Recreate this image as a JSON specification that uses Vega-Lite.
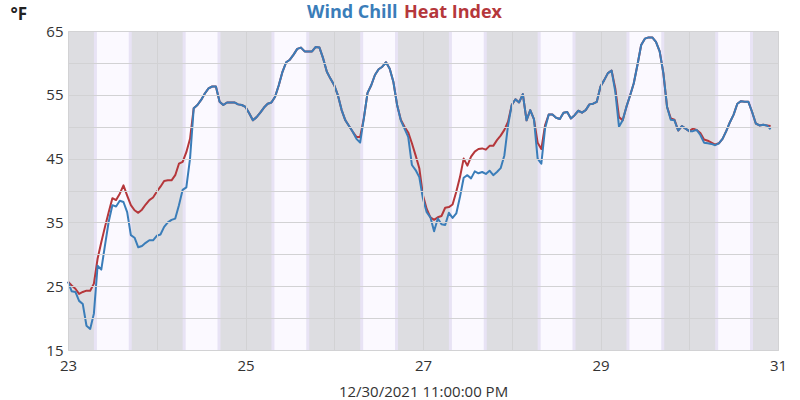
{
  "$schema": "https://vega.github.io/schema/vega-lite/v6.json",
  "width": 710,
  "height": 319,
  "autosize": "none",
  "padding": {"left": 68, "top": 31, "right": 22, "bottom": 50},
  "background": "white",
  "config": {
    "view": {"fill": "#dddde1", "stroke": "#d4d4d6"},
    "font": "Open Sans"
  },
  "datasets": {
    "sun": [
      {"rise": "2021-12-23T07:25", "set": "2021-12-23T16:50"},
      {"rise": "2021-12-24T07:25", "set": "2021-12-24T16:50"},
      {"rise": "2021-12-25T07:25", "set": "2021-12-25T16:50"},
      {"rise": "2021-12-26T07:25", "set": "2021-12-26T16:50"},
      {"rise": "2021-12-27T07:25", "set": "2021-12-27T16:50"},
      {"rise": "2021-12-28T07:25", "set": "2021-12-28T16:50"},
      {"rise": "2021-12-29T07:25", "set": "2021-12-29T16:50"},
      {"rise": "2021-12-30T07:25", "set": "2021-12-30T16:50"}
    ],
    "wx": [
      {"t": "2021-12-23T00:00", "Wind Chill": 25.7, "Heat Index": 25.7},
      {"t": "2021-12-23T01:00", "Wind Chill": 24.2, "Heat Index": 25.1},
      {"t": "2021-12-23T02:00", "Wind Chill": 24.1, "Heat Index": 24.6},
      {"t": "2021-12-23T03:00", "Wind Chill": 22.7, "Heat Index": 23.8},
      {"t": "2021-12-23T04:00", "Wind Chill": 22.2, "Heat Index": 24.1},
      {"t": "2021-12-23T05:00", "Wind Chill": 18.8, "Heat Index": 24.3},
      {"t": "2021-12-23T06:00", "Wind Chill": 18.3, "Heat Index": 24.3},
      {"t": "2021-12-23T07:00", "Wind Chill": 20.7, "Heat Index": 25.4},
      {"t": "2021-12-23T08:00", "Wind Chill": 28.2, "Heat Index": 29.3},
      {"t": "2021-12-23T09:00", "Wind Chill": 27.6, "Heat Index": 31.9},
      {"t": "2021-12-23T10:00", "Wind Chill": 31.4, "Heat Index": 34.3},
      {"t": "2021-12-23T11:00", "Wind Chill": 35.1, "Heat Index": 36.6},
      {"t": "2021-12-23T12:00", "Wind Chill": 37.7, "Heat Index": 38.8},
      {"t": "2021-12-23T13:00", "Wind Chill": 37.5, "Heat Index": 38.5},
      {"t": "2021-12-23T14:00", "Wind Chill": 38.4, "Heat Index": 39.5},
      {"t": "2021-12-23T15:00", "Wind Chill": 38.2, "Heat Index": 40.8},
      {"t": "2021-12-23T16:00", "Wind Chill": 36.6, "Heat Index": 39.2},
      {"t": "2021-12-23T17:00", "Wind Chill": 33.0, "Heat Index": 37.7},
      {"t": "2021-12-23T18:00", "Wind Chill": 32.6, "Heat Index": 36.9},
      {"t": "2021-12-23T19:00", "Wind Chill": 31.1, "Heat Index": 36.5},
      {"t": "2021-12-23T20:00", "Wind Chill": 31.3, "Heat Index": 37.0},
      {"t": "2021-12-23T21:00", "Wind Chill": 31.8, "Heat Index": 37.8},
      {"t": "2021-12-23T22:00", "Wind Chill": 32.2, "Heat Index": 38.5},
      {"t": "2021-12-23T23:00", "Wind Chill": 32.2, "Heat Index": 38.9},
      {"t": "2021-12-24T00:00", "Wind Chill": 32.9, "Heat Index": 39.8},
      {"t": "2021-12-24T01:00", "Wind Chill": 33.1, "Heat Index": 40.6},
      {"t": "2021-12-24T02:00", "Wind Chill": 34.3, "Heat Index": 41.5},
      {"t": "2021-12-24T03:00", "Wind Chill": 35.0, "Heat Index": 41.6},
      {"t": "2021-12-24T04:00", "Wind Chill": 35.4, "Heat Index": 41.6},
      {"t": "2021-12-24T05:00", "Wind Chill": 35.6, "Heat Index": 42.4},
      {"t": "2021-12-24T06:00", "Wind Chill": 37.7, "Heat Index": 44.2},
      {"t": "2021-12-24T07:00", "Wind Chill": 40.1, "Heat Index": 44.5},
      {"t": "2021-12-24T08:00", "Wind Chill": 40.5, "Heat Index": 46.0},
      {"t": "2021-12-24T09:00", "Wind Chill": 45.0, "Heat Index": 48.1},
      {"t": "2021-12-24T10:00", "Wind Chill": 52.9, "Heat Index": 52.9},
      {"t": "2021-12-24T11:00", "Wind Chill": 53.4, "Heat Index": 53.4},
      {"t": "2021-12-24T12:00", "Wind Chill": 54.2, "Heat Index": 54.2},
      {"t": "2021-12-24T13:00", "Wind Chill": 55.2, "Heat Index": 55.2},
      {"t": "2021-12-24T14:00", "Wind Chill": 56.0, "Heat Index": 56.0},
      {"t": "2021-12-24T15:00", "Wind Chill": 56.3, "Heat Index": 56.3},
      {"t": "2021-12-24T16:00", "Wind Chill": 56.3, "Heat Index": 56.3},
      {"t": "2021-12-24T17:00", "Wind Chill": 53.9, "Heat Index": 53.9},
      {"t": "2021-12-24T18:00", "Wind Chill": 53.4, "Heat Index": 53.4},
      {"t": "2021-12-24T19:00", "Wind Chill": 53.8, "Heat Index": 53.8},
      {"t": "2021-12-24T20:00", "Wind Chill": 53.8, "Heat Index": 53.8},
      {"t": "2021-12-24T21:00", "Wind Chill": 53.8, "Heat Index": 53.8},
      {"t": "2021-12-24T22:00", "Wind Chill": 53.5, "Heat Index": 53.5},
      {"t": "2021-12-24T23:00", "Wind Chill": 53.4, "Heat Index": 53.4},
      {"t": "2021-12-25T00:00", "Wind Chill": 53.1, "Heat Index": 53.1},
      {"t": "2021-12-25T01:00", "Wind Chill": 52.1, "Heat Index": 52.1},
      {"t": "2021-12-25T02:00", "Wind Chill": 51.0, "Heat Index": 51.0},
      {"t": "2021-12-25T03:00", "Wind Chill": 51.5, "Heat Index": 51.5},
      {"t": "2021-12-25T04:00", "Wind Chill": 52.2, "Heat Index": 52.2},
      {"t": "2021-12-25T05:00", "Wind Chill": 53.0, "Heat Index": 53.0},
      {"t": "2021-12-25T06:00", "Wind Chill": 53.6, "Heat Index": 53.6},
      {"t": "2021-12-25T07:00", "Wind Chill": 53.8, "Heat Index": 53.8},
      {"t": "2021-12-25T08:00", "Wind Chill": 54.7, "Heat Index": 54.7},
      {"t": "2021-12-25T09:00", "Wind Chill": 56.5, "Heat Index": 56.5},
      {"t": "2021-12-25T10:00", "Wind Chill": 58.6, "Heat Index": 58.6},
      {"t": "2021-12-25T11:00", "Wind Chill": 60.1, "Heat Index": 60.1},
      {"t": "2021-12-25T12:00", "Wind Chill": 60.5, "Heat Index": 60.5},
      {"t": "2021-12-25T13:00", "Wind Chill": 61.3, "Heat Index": 61.3},
      {"t": "2021-12-25T14:00", "Wind Chill": 62.2, "Heat Index": 62.2},
      {"t": "2021-12-25T15:00", "Wind Chill": 62.4, "Heat Index": 62.4},
      {"t": "2021-12-25T16:00", "Wind Chill": 61.8, "Heat Index": 61.8},
      {"t": "2021-12-25T17:00", "Wind Chill": 61.8, "Heat Index": 61.8},
      {"t": "2021-12-25T18:00", "Wind Chill": 61.8, "Heat Index": 61.8},
      {"t": "2021-12-25T19:00", "Wind Chill": 62.5, "Heat Index": 62.5},
      {"t": "2021-12-25T20:00", "Wind Chill": 62.4, "Heat Index": 62.4},
      {"t": "2021-12-25T21:00", "Wind Chill": 60.7, "Heat Index": 60.7},
      {"t": "2021-12-25T22:00", "Wind Chill": 58.6, "Heat Index": 58.6},
      {"t": "2021-12-25T23:00", "Wind Chill": 57.5, "Heat Index": 57.5},
      {"t": "2021-12-26T00:00", "Wind Chill": 56.5, "Heat Index": 56.5},
      {"t": "2021-12-26T01:00", "Wind Chill": 54.9, "Heat Index": 54.9},
      {"t": "2021-12-26T02:00", "Wind Chill": 52.6, "Heat Index": 52.6},
      {"t": "2021-12-26T03:00", "Wind Chill": 51.0, "Heat Index": 51.0},
      {"t": "2021-12-26T04:00", "Wind Chill": 50.1, "Heat Index": 50.1},
      {"t": "2021-12-26T05:00", "Wind Chill": 49.2, "Heat Index": 49.2},
      {"t": "2021-12-26T06:00", "Wind Chill": 48.1, "Heat Index": 48.4},
      {"t": "2021-12-26T07:00", "Wind Chill": 47.5, "Heat Index": 48.4},
      {"t": "2021-12-26T08:00", "Wind Chill": 51.3, "Heat Index": 51.3},
      {"t": "2021-12-26T09:00", "Wind Chill": 55.3, "Heat Index": 55.3},
      {"t": "2021-12-26T10:00", "Wind Chill": 56.5, "Heat Index": 56.5},
      {"t": "2021-12-26T11:00", "Wind Chill": 58.1, "Heat Index": 58.1},
      {"t": "2021-12-26T12:00", "Wind Chill": 59.0, "Heat Index": 59.0},
      {"t": "2021-12-26T13:00", "Wind Chill": 59.4, "Heat Index": 59.4},
      {"t": "2021-12-26T14:00", "Wind Chill": 60.1, "Heat Index": 60.1},
      {"t": "2021-12-26T15:00", "Wind Chill": 59.1, "Heat Index": 59.1},
      {"t": "2021-12-26T16:00", "Wind Chill": 57.0, "Heat Index": 57.0},
      {"t": "2021-12-26T17:00", "Wind Chill": 53.4, "Heat Index": 53.4},
      {"t": "2021-12-26T18:00", "Wind Chill": 51.0, "Heat Index": 51.1},
      {"t": "2021-12-26T19:00", "Wind Chill": 49.7, "Heat Index": 50.0},
      {"t": "2021-12-26T20:00", "Wind Chill": 48.4, "Heat Index": 49.1},
      {"t": "2021-12-26T21:00", "Wind Chill": 44.0, "Heat Index": 47.4},
      {"t": "2021-12-26T22:00", "Wind Chill": 43.2, "Heat Index": 45.5},
      {"t": "2021-12-26T23:00", "Wind Chill": 42.1, "Heat Index": 43.5},
      {"t": "2021-12-27T00:00", "Wind Chill": 38.7, "Heat Index": 39.2},
      {"t": "2021-12-27T01:00", "Wind Chill": 36.6, "Heat Index": 37.1},
      {"t": "2021-12-27T02:00", "Wind Chill": 35.8, "Heat Index": 35.8},
      {"t": "2021-12-27T03:00", "Wind Chill": 33.6, "Heat Index": 35.4},
      {"t": "2021-12-27T04:00", "Wind Chill": 35.6, "Heat Index": 35.8},
      {"t": "2021-12-27T05:00", "Wind Chill": 34.7, "Heat Index": 36.0},
      {"t": "2021-12-27T06:00", "Wind Chill": 34.6, "Heat Index": 37.3},
      {"t": "2021-12-27T07:00", "Wind Chill": 36.5, "Heat Index": 37.4},
      {"t": "2021-12-27T08:00", "Wind Chill": 35.7, "Heat Index": 37.8},
      {"t": "2021-12-27T09:00", "Wind Chill": 36.4, "Heat Index": 39.8},
      {"t": "2021-12-27T10:00", "Wind Chill": 39.0, "Heat Index": 42.1},
      {"t": "2021-12-27T11:00", "Wind Chill": 42.0, "Heat Index": 45.0},
      {"t": "2021-12-27T12:00", "Wind Chill": 42.4, "Heat Index": 43.9},
      {"t": "2021-12-27T13:00", "Wind Chill": 41.9, "Heat Index": 45.3},
      {"t": "2021-12-27T14:00", "Wind Chill": 43.0, "Heat Index": 46.1},
      {"t": "2021-12-27T15:00", "Wind Chill": 42.7, "Heat Index": 46.5},
      {"t": "2021-12-27T16:00", "Wind Chill": 42.9, "Heat Index": 46.6},
      {"t": "2021-12-27T17:00", "Wind Chill": 42.6, "Heat Index": 46.4},
      {"t": "2021-12-27T18:00", "Wind Chill": 43.1, "Heat Index": 47.0},
      {"t": "2021-12-27T19:00", "Wind Chill": 42.4, "Heat Index": 47.0},
      {"t": "2021-12-27T20:00", "Wind Chill": 42.9, "Heat Index": 47.9},
      {"t": "2021-12-27T21:00", "Wind Chill": 43.5, "Heat Index": 48.6},
      {"t": "2021-12-27T22:00", "Wind Chill": 45.5, "Heat Index": 49.5},
      {"t": "2021-12-27T23:00", "Wind Chill": 50.2, "Heat Index": 50.8},
      {"t": "2021-12-28T00:00", "Wind Chill": 53.4, "Heat Index": 53.4},
      {"t": "2021-12-28T01:00", "Wind Chill": 54.3, "Heat Index": 54.3},
      {"t": "2021-12-28T02:00", "Wind Chill": 53.8, "Heat Index": 53.8},
      {"t": "2021-12-28T03:00", "Wind Chill": 55.1, "Heat Index": 55.1},
      {"t": "2021-12-28T04:00", "Wind Chill": 51.0, "Heat Index": 51.0},
      {"t": "2021-12-28T05:00", "Wind Chill": 52.6, "Heat Index": 52.6},
      {"t": "2021-12-28T06:00", "Wind Chill": 51.2, "Heat Index": 51.2},
      {"t": "2021-12-28T07:00", "Wind Chill": 45.0, "Heat Index": 47.5},
      {"t": "2021-12-28T08:00", "Wind Chill": 44.2, "Heat Index": 46.5},
      {"t": "2021-12-28T09:00", "Wind Chill": 49.7, "Heat Index": 50.2},
      {"t": "2021-12-28T10:00", "Wind Chill": 51.9, "Heat Index": 51.9},
      {"t": "2021-12-28T11:00", "Wind Chill": 51.9, "Heat Index": 51.9},
      {"t": "2021-12-28T12:00", "Wind Chill": 51.4, "Heat Index": 51.4},
      {"t": "2021-12-28T13:00", "Wind Chill": 51.2, "Heat Index": 51.2},
      {"t": "2021-12-28T14:00", "Wind Chill": 52.2, "Heat Index": 52.2},
      {"t": "2021-12-28T15:00", "Wind Chill": 52.3, "Heat Index": 52.3},
      {"t": "2021-12-28T16:00", "Wind Chill": 51.3, "Heat Index": 51.3},
      {"t": "2021-12-28T17:00", "Wind Chill": 51.8, "Heat Index": 51.8},
      {"t": "2021-12-28T18:00", "Wind Chill": 52.5, "Heat Index": 52.5},
      {"t": "2021-12-28T19:00", "Wind Chill": 52.2, "Heat Index": 52.2},
      {"t": "2021-12-28T20:00", "Wind Chill": 52.6, "Heat Index": 52.6},
      {"t": "2021-12-28T21:00", "Wind Chill": 53.5, "Heat Index": 53.5},
      {"t": "2021-12-28T22:00", "Wind Chill": 53.6, "Heat Index": 53.6},
      {"t": "2021-12-28T23:00", "Wind Chill": 53.9, "Heat Index": 53.9},
      {"t": "2021-12-29T00:00", "Wind Chill": 56.3, "Heat Index": 56.3},
      {"t": "2021-12-29T01:00", "Wind Chill": 57.3, "Heat Index": 57.3},
      {"t": "2021-12-29T02:00", "Wind Chill": 58.4, "Heat Index": 58.4},
      {"t": "2021-12-29T03:00", "Wind Chill": 58.8, "Heat Index": 58.8},
      {"t": "2021-12-29T04:00", "Wind Chill": 55.5, "Heat Index": 56.0},
      {"t": "2021-12-29T05:00", "Wind Chill": 50.0, "Heat Index": 51.5},
      {"t": "2021-12-29T06:00", "Wind Chill": 51.0, "Heat Index": 51.0},
      {"t": "2021-12-29T07:00", "Wind Chill": 53.1, "Heat Index": 53.1},
      {"t": "2021-12-29T08:00", "Wind Chill": 54.9, "Heat Index": 54.9},
      {"t": "2021-12-29T09:00", "Wind Chill": 56.8, "Heat Index": 56.8},
      {"t": "2021-12-29T10:00", "Wind Chill": 59.7, "Heat Index": 59.7},
      {"t": "2021-12-29T11:00", "Wind Chill": 62.8, "Heat Index": 62.8},
      {"t": "2021-12-29T12:00", "Wind Chill": 63.8, "Heat Index": 63.8},
      {"t": "2021-12-29T13:00", "Wind Chill": 64.0, "Heat Index": 64.0},
      {"t": "2021-12-29T14:00", "Wind Chill": 64.0, "Heat Index": 64.0},
      {"t": "2021-12-29T15:00", "Wind Chill": 63.3, "Heat Index": 63.3},
      {"t": "2021-12-29T16:00", "Wind Chill": 61.8, "Heat Index": 61.8},
      {"t": "2021-12-29T17:00", "Wind Chill": 58.4, "Heat Index": 58.4},
      {"t": "2021-12-29T18:00", "Wind Chill": 53.1, "Heat Index": 53.1},
      {"t": "2021-12-29T19:00", "Wind Chill": 51.1, "Heat Index": 51.3},
      {"t": "2021-12-29T20:00", "Wind Chill": 51.0, "Heat Index": 51.1},
      {"t": "2021-12-29T21:00", "Wind Chill": 49.4, "Heat Index": 49.4},
      {"t": "2021-12-29T22:00", "Wind Chill": 50.1, "Heat Index": 50.1},
      {"t": "2021-12-29T23:00", "Wind Chill": 49.7, "Heat Index": 49.7},
      {"t": "2021-12-30T00:00", "Wind Chill": 49.3, "Heat Index": 49.3},
      {"t": "2021-12-30T01:00", "Wind Chill": 49.3, "Heat Index": 49.7},
      {"t": "2021-12-30T02:00", "Wind Chill": 49.5, "Heat Index": 49.5},
      {"t": "2021-12-30T03:00", "Wind Chill": 48.7, "Heat Index": 49.0},
      {"t": "2021-12-30T04:00", "Wind Chill": 47.5, "Heat Index": 48.0},
      {"t": "2021-12-30T05:00", "Wind Chill": 47.4, "Heat Index": 47.8},
      {"t": "2021-12-30T06:00", "Wind Chill": 47.3, "Heat Index": 47.5},
      {"t": "2021-12-30T07:00", "Wind Chill": 47.1, "Heat Index": 47.2},
      {"t": "2021-12-30T08:00", "Wind Chill": 47.4, "Heat Index": 47.4},
      {"t": "2021-12-30T09:00", "Wind Chill": 48.1, "Heat Index": 48.1},
      {"t": "2021-12-30T10:00", "Wind Chill": 49.3, "Heat Index": 49.3},
      {"t": "2021-12-30T11:00", "Wind Chill": 50.7, "Heat Index": 50.7},
      {"t": "2021-12-30T12:00", "Wind Chill": 51.9, "Heat Index": 51.9},
      {"t": "2021-12-30T13:00", "Wind Chill": 53.6, "Heat Index": 53.6},
      {"t": "2021-12-30T14:00", "Wind Chill": 54.0, "Heat Index": 54.0},
      {"t": "2021-12-30T15:00", "Wind Chill": 53.9, "Heat Index": 53.9},
      {"t": "2021-12-30T16:00", "Wind Chill": 53.9, "Heat Index": 53.9},
      {"t": "2021-12-30T17:00", "Wind Chill": 52.3, "Heat Index": 52.3},
      {"t": "2021-12-30T18:00", "Wind Chill": 50.5, "Heat Index": 50.5},
      {"t": "2021-12-30T19:00", "Wind Chill": 50.2, "Heat Index": 50.2},
      {"t": "2021-12-30T20:00", "Wind Chill": 50.3, "Heat Index": 50.3},
      {"t": "2021-12-30T21:00", "Wind Chill": 50.2, "Heat Index": 50.2},
      {"t": "2021-12-30T22:00", "Wind Chill": 49.6, "Heat Index": 50.1}
    ]
  },
  "layer": [
    {
      "data": {"name": "sun"},
      "mark": {"type": "rect", "color": "#fbf9ff"},
      "encoding": {
        "x": {
          "field": "rise",
          "type": "temporal",
          "title": "12/30/2021 11:00:00 PM",
          "scale": {"domain": [{"year": 2021, "month": 12, "date": 23}, {"year": 2021, "month": 12, "date": 31}], "nice": false},
          "axis": {
            "values": [
              {"year": 2021, "month": 12, "date": 23},
              {"year": 2021, "month": 12, "date": 24},
              {"year": 2021, "month": 12, "date": 25},
              {"year": 2021, "month": 12, "date": 26},
              {"year": 2021, "month": 12, "date": 27},
              {"year": 2021, "month": 12, "date": 28},
              {"year": 2021, "month": 12, "date": 29},
              {"year": 2021, "month": 12, "date": 30},
              {"year": 2021, "month": 12, "date": 31}
            ],
            "format": "%-d",
            "labelExpr": "date(datum.value) % 2 == 1 ? datum.label : ''",
            "grid": true,
            "gridColor": "#d2d2d4",
            "domain": false,
            "ticks": false,
            "labelFontSize": 15,
            "labelColor": "#333333",
            "labelPadding": 8,
            "labelOverlap": false,
            "labelFlush": false,
            "titleFontSize": 15,
            "titleFontWeight": "normal",
            "titleColor": "#333333",
            "titlePadding": 11,
            "zindex": 1
          }
        },
        "x2": {"field": "set"}
      }
    },
    {
      "data": {"name": "sun"},
      "mark": {"type": "rule", "color": "#e8e3f5", "strokeWidth": 3},
      "encoding": {"x": {"field": "rise", "type": "temporal", "title": "12/30/2021 11:00:00 PM"}}
    },
    {
      "data": {"name": "sun"},
      "mark": {"type": "rule", "color": "#e8e3f5", "strokeWidth": 3},
      "encoding": {"x": {"field": "set", "type": "temporal", "title": "12/30/2021 11:00:00 PM"}}
    },
    {
      "data": {"name": "wx"},
      "transform": [{"fold": ["Heat Index", "Wind Chill"], "as": ["series", "temp"]}],
      "mark": {"type": "line", "strokeWidth": 2, "strokeJoin": "round"},
      "encoding": {
        "x": {"field": "t", "type": "temporal", "title": "12/30/2021 11:00:00 PM"},
        "y": {
          "field": "temp",
          "type": "quantitative",
          "scale": {"domain": [15, 65], "nice": false, "zero": false},
          "axis": {
            "values": [15, 20, 25, 30, 35, 40, 45, 50, 55, 60, 65],
            "labelExpr": "datum.value % 10 == 5 ? datum.label : ''",
            "grid": true,
            "gridColor": "#d2d2d4",
            "domain": false,
            "ticks": false,
            "labelFontSize": 15,
            "labelColor": "#333333",
            "labelPadding": 5,
            "labelOverlap": false,
            "labelFlush": false,
            "title": "°F",
            "titleAngle": 0,
            "titleAlign": "left",
            "titleBaseline": "middle",
            "titleX": -58,
            "titleY": -17,
            "titleFontSize": 17,
            "titleFontWeight": "bold",
            "titleColor": "#222222",
            "zindex": 1
          }
        },
        "color": {
          "field": "series",
          "type": "nominal",
          "scale": {"domain": ["Wind Chill", "Heat Index"], "range": ["#3a7db9", "#b5373b"]},
          "legend": {
            "orient": "none",
            "legendX": 233,
            "legendY": -27,
            "direction": "horizontal",
            "title": null,
            "padding": 0,
            "symbolSize": 0,
            "symbolStrokeWidth": 0,
            "symbolOpacity": 0,
            "labelOffset": -12,
            "columnPadding": 0,
            "labelFontSize": 18,
            "labelFontWeight": "bold",
            "labelLimit": 300,
            "encode": {
              "labels": {"update": {"fill": {"signal": "datum.label === 'Wind Chill' ? '#3a7db9' : '#b5373b'"}}}
            }
          }
        }
      }
    }
  ]
}
